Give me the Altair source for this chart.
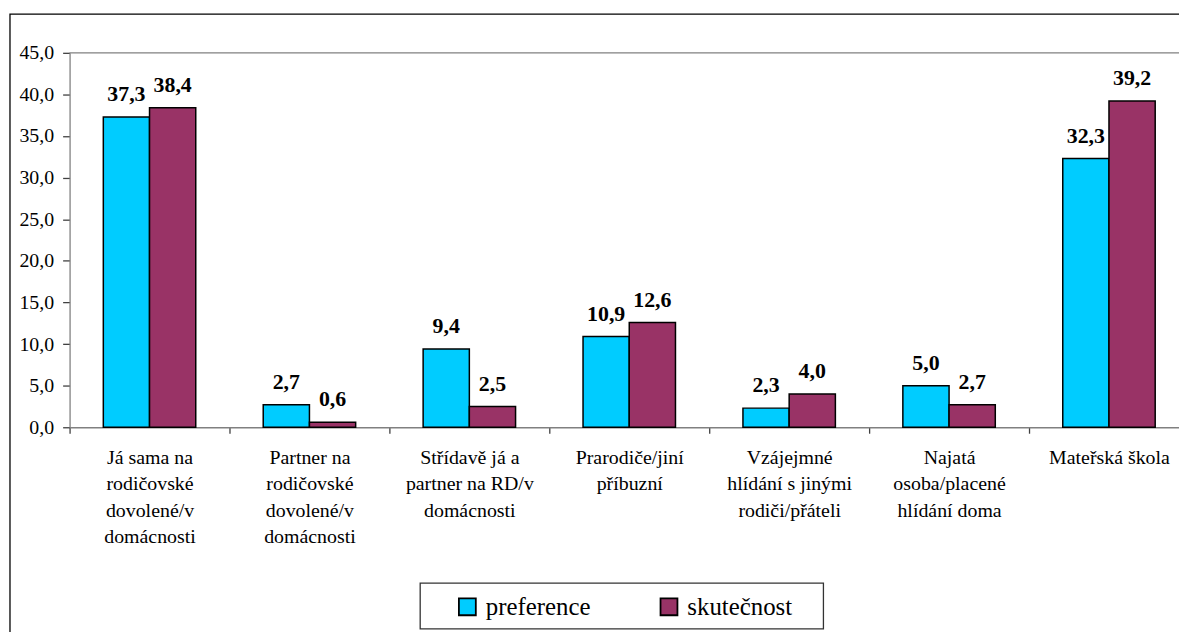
import altair as alt
import pandas as pd

categories = [
    "Já sama na\nrodičovské\ndovolené/v\ndomácnosti",
    "Partner na\nrodičovské\ndovolené/v\ndomácnosti",
    "Střídavě já a\npartner na RD/v\ndomácnosti",
    "Prarodiče/jiní\npříbuzní",
    "Vzájejmné\nhlídání s jinými\nrodiči/přáteli",
    "Najatá\nosoba/placené\nhlídání doma",
    "Mateřská škola",
]
series_names = ["preference", "skutečnost"]
preference = [37.3, 2.7, 9.4, 10.9, 2.3, 5.0, 32.3]
skutecnost = [38.4, 0.6, 2.5, 12.6, 4.0, 2.7, 39.2]
y_ticks = [0, 5, 10, 15, 20, 25, 30, 35, 40, 45]
colors = ["#00CCFF", "#993366"]

rows = []
for c, p, s in zip(categories, preference, skutecnost):
    rows.append({"cat": c, "series": series_names[0], "value": p})
    rows.append({"cat": c, "series": series_names[1], "value": s})
df = pd.DataFrame(rows)

FONT = "'Liberation Serif', 'Times New Roman', 'DejaVu Serif', serif"
W = 1117
H = 377

x = alt.X(
    "cat:N",
    sort=categories,
    scale=alt.Scale(paddingInner=0, paddingOuter=0, range=[0, 1127]),
    axis=alt.Axis(
        title=None,
        labelAngle=0,
        tickBand="extent",
        tickSize=6,
        labelPadding=14,
        labelFont=FONT,
        labelFontSize=20,
        labelLineHeight=26.7,
        labelColor="black",
        labelLimit=0,
        labelExpr="split(datum.label, '\\n')",
        domainColor="#808080",
        domainWidth=1.3,
        tickColor="#404040",
        tickWidth=1.3,
    ),
)
xoff = alt.XOffset(
    "series:N",
    sort=series_names,
    scale=alt.Scale(paddingInner=0, paddingOuter=0.73),
)
y = alt.Y(
    "value:Q",
    scale=alt.Scale(domain=[0, 45], nice=False),
    axis=alt.Axis(
        title=None,
        values=y_ticks,
        grid=False,
        tickSize=7,
        labelPadding=9,
        labelFont=FONT,
        labelFontSize=20,
        labelColor="black",
        labelExpr="replace(format(datum.value, '.1f'), '.', ',')",
        domainColor="#808080",
        domainWidth=1.3,
        tickColor="#404040",
        tickWidth=1.3,
    ),
)

base = alt.Chart(df)

bars = base.mark_bar(stroke="black", strokeWidth=1.5).encode(
    x=x,
    xOffset=xoff,
    y=y,
    color=alt.Color(
        "series:N",
        sort=series_names,
        scale=alt.Scale(domain=series_names, range=colors),
        legend=alt.Legend(
            title=None,
            orient="none",
            legendX=388,
            legendY=545,
            direction="horizontal",
            columns=2,
            columnPadding=66,
            padding=0,
            symbolType="square",
            symbolSize=290,
            symbolStrokeColor="black",
            symbolStrokeWidth=1.8,
            symbolOpacity=1,
            labelFont=FONT,
            labelFontSize=25,
            labelColor="black",
            labelOffset=6,
            labelLimit=0,
        ),
    ),
)

labels = base.transform_calculate(
    lbl="replace(format(datum.value, '.1f'), '.', ',')"
).mark_text(
    font=FONT, fontSize=22, fontWeight="bold", color="black",
    baseline="alphabetic", dy=-16,
).encode(x=x, xOffset=xoff, y=y, text="lbl:N")

one = alt.Chart(alt.Data(values=[{"k": 1}]))

top_line = one.mark_rule(color="#808080", strokeWidth=1.3).encode(
    x=alt.value(0), x2=alt.value(1300), y=alt.value(0)
)
frame = one.mark_rect(fill="transparent", stroke="black", strokeWidth=1.3).encode(
    x=alt.value(-60), x2=alt.value(1400), y=alt.value(-39), y2=alt.value(800)
)
legend_box = one.mark_rect(fill="transparent", stroke="#333333", strokeWidth=1.3).encode(
    x=alt.value(353), x2=alt.value(759), y=alt.value(534), y2=alt.value(580)
)

chart = (
    alt.layer(frame, legend_box, top_line, bars, labels)
    .properties(
        width=W,
        height=H,
        autosize=alt.AutoSizeParams(type="none"),
        padding={"left": 62, "top": 43, "right": 0, "bottom": 204},
        background="white",
    )
    .configure_view(stroke=None)
)

chart.save("out.html", embed_options={"renderer": "svg", "actions": False})
